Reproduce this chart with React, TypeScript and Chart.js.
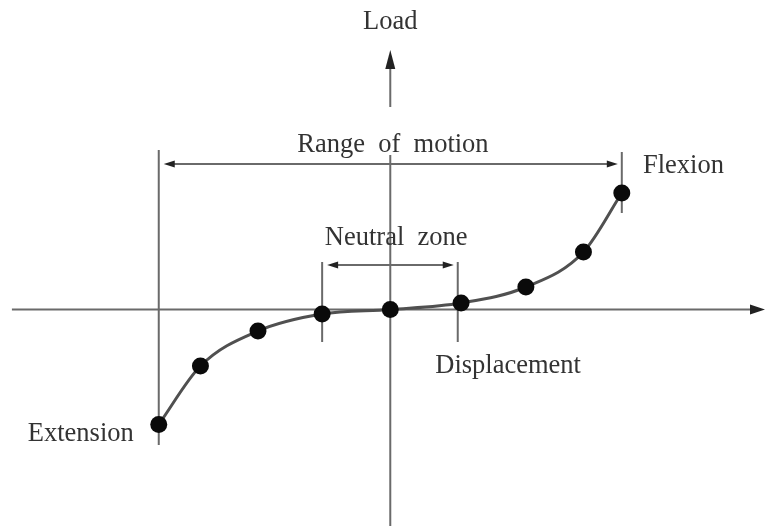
import React, { useEffect, useRef } from "react";
import { Chart, registerables } from "chart.js";

Chart.register(...registerables);

// Data (displacement vs load), origin at (0, 0)
const displacement = [-3.5, -2.87, -2.0, -1.03, 0, 1.07, 2.05, 2.92, 3.5];
const load = [-11.5, -5.65, -2.15, -0.45, 0, 0.65, 2.25, 5.75, 11.65];

// Axis extents
const xRange = [-5.9, 5.68];
const yRange = [-21.65, 30.95];

// Zones (in displacement units)
const rangeOfMotion = [-3.5, 3.5];
const neutralZone = [-1.03, 1.02];

// Label texts
const labelTexts = ["Load", "Range  of  motion", "Neutral  zone", "Flexion", "Displacement", "Extension"];

const FONT = '26.5px "Liberation Serif", "Times New Roman", serif';
const TEXT_COLOR = "#333";
const LINE_COLOR = "#6a6a6a";

function arrowHead(ctx: CanvasRenderingContext2D, tx: number, ty: number, dx: number, dy: number, len: number, half: number) {
  const l = Math.hypot(dx, dy);
  const ux = dx / l, uy = dy / l;
  const bx = tx - ux * len, by = ty - uy * len;
  ctx.beginPath();
  ctx.moveTo(tx, ty);
  ctx.lineTo(bx - uy * half, by + ux * half);
  ctx.lineTo(bx + uy * half, by - ux * half);
  ctx.closePath();
  ctx.fill();
}

const diagramPlugin = {
  id: "diagram",
  beforeDatasetsDraw(chart: any) {
    const ctx: CanvasRenderingContext2D = chart.ctx;
    const xs = chart.scales.x;
    const ys = chart.scales.y;
    const X = (v: number) => xs.getPixelForValue(v);
    const Y = (v: number) => ys.getPixelForValue(v);
    ctx.save();
    ctx.strokeStyle = LINE_COLOR;
    ctx.fillStyle = "#222";
    ctx.lineWidth = 2;
    const line = (x1: number, y1: number, x2: number, y2: number) => {
      ctx.beginPath();
      ctx.moveTo(x1, y1);
      ctx.lineTo(x2, y2);
      ctx.stroke();
    };

    // X axis (Displacement)
    const x0 = Y(0);
    line(X(-5.72), x0, X(xRange[1]) - 6, x0);
    arrowHead(ctx, X(xRange[1]) - 1, x0, 1, 0, 15, 5);

    // Y axis (Load) with a gap for the "Range of motion" label
    const yAx = X(0);
    line(yAx, Y(yRange[0]), yAx, Y(15.45));
    line(yAx, Y(20.25), yAx, Y(24.5));
    arrowHead(ctx, yAx, Y(25.95), 0, -1, 19, 5);

    // Range of motion
    const romY = Y(14.55);
    line(X(rangeOfMotion[0]), Y(15.95), X(rangeOfMotion[0]), Y(-13.55));
    line(X(rangeOfMotion[1]), Y(15.75), X(rangeOfMotion[1]), Y(9.65));
    const rl = X(rangeOfMotion[0]) + 5, rr = X(rangeOfMotion[1]) - 4;
    line(rl + 8, romY, rr - 8, romY);
    arrowHead(ctx, rl, romY, -1, 0, 11, 3.5);
    arrowHead(ctx, rr, romY, 1, 0, 11, 3.5);

    // Neutral zone
    const nzY = Y(4.45);
    line(X(neutralZone[0]), Y(4.75), X(neutralZone[0]), Y(-3.25));
    line(X(neutralZone[1]), Y(4.75), X(neutralZone[1]), Y(-3.25));
    const nl = X(neutralZone[0]) + 5, nr = X(neutralZone[1]) - 4;
    line(nl + 8, nzY, nr - 8, nzY);
    arrowHead(ctx, nl, nzY, -1, 0, 11, 3.5);
    arrowHead(ctx, nr, nzY, 1, 0, 11, 3.5);

    // Labels
    ctx.font = FONT;
    ctx.fillStyle = TEXT_COLOR;
    ctx.textBaseline = "middle";
    const anchors: [number, number, CanvasTextAlign][] = [
      [0, 28.75, "center"],
      [0.04, 16.45, "center"],
      [0.09, 7.1, "center"],
      [3.82, 14.3, "left"],
      [0.68, -5.7, "left"],
      [-5.48, -12.45, "left"],
    ];
    labelTexts.forEach((t, i) => {
      const [ax, ay, al] = anchors[i];
      ctx.textAlign = al;
      ctx.fillText(t, X(ax), Y(ay));
    });
    ctx.restore();
  },
};

export default function App() {
  const ref = useRef<HTMLCanvasElement>(null);
  useEffect(() => {
    document.body.style.margin = "0";
    const canvas = ref.current!;
    const chart = new Chart(canvas, {
      type: "scatter",
      data: {
        datasets: [
          {
            data: displacement.map((d, i) => ({ x: d, y: load[i] })),
            showLine: true,
            cubicInterpolationMode: "monotone",
            borderColor: "#505050",
            borderWidth: 3,
            pointRadius: 8.5,
            pointBackgroundColor: "#0a0a0a",
            pointBorderWidth: 0,
            pointHoverRadius: 8.5,
          } as any,
        ],
      },
      options: {
        responsive: false,
        animation: false,
        layout: { padding: 0, autoPadding: false },
        events: [],
        scales: {
          x: { type: "linear", min: xRange[0], max: xRange[1], display: false },
          y: { type: "linear", min: yRange[0], max: yRange[1], display: false },
        },
        plugins: { legend: { display: false }, tooltip: { enabled: false } },
      },
      plugins: [diagramPlugin],
    });
    return () => chart.destroy();
  }, []);
  return (
    <div style={{ width: 766, height: 526, background: "#fff" }}>
      <canvas ref={ref} width={766} height={526} style={{ display: "block" }} />
    </div>
  );
}
